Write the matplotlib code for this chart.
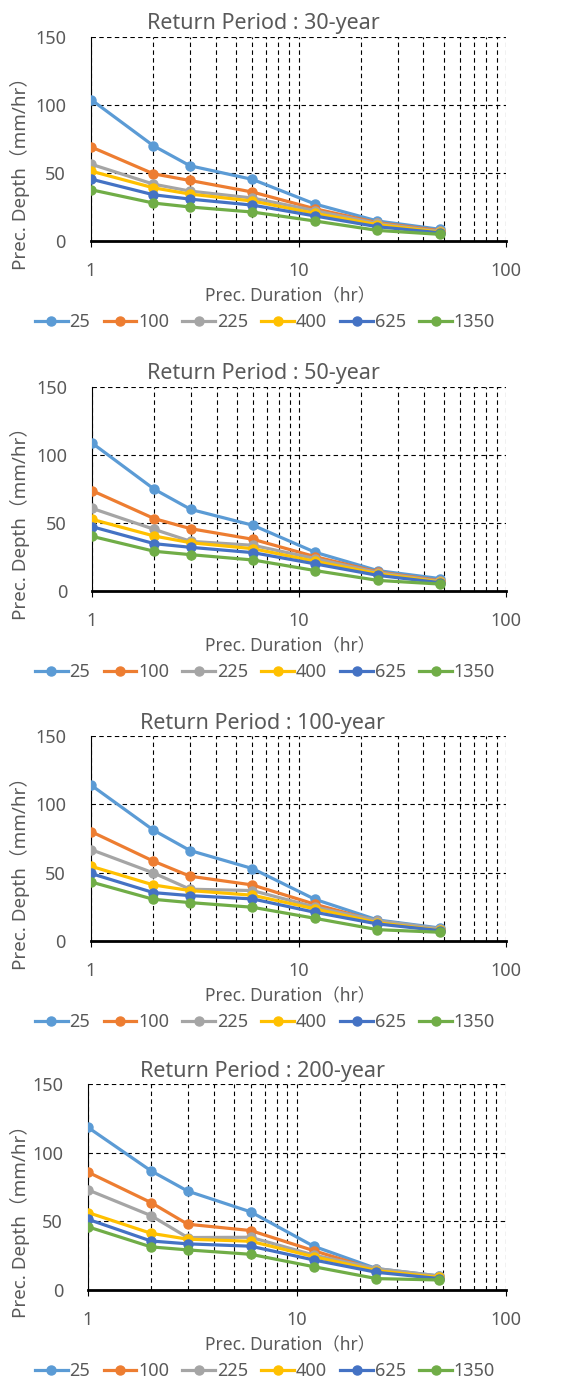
import numpy as np
import matplotlib
matplotlib.use('Agg')
import matplotlib.pyplot as plt

plt.rcParams['font.family'] = ['Noto Sans', 'Noto Sans CJK JP', 'DejaVu Sans']

durations = [1, 2, 3, 6, 12, 24, 48]
areas = ['25', '100', '225', '400', '625', '1350']
colors = ['#5B9BD5', '#ED7D31', '#A5A5A5', '#FFC000', '#4472C4', '#70AD47']
periods = ['30', '50', '100', '200']

rp30 = [
    [104, 70, 55.3, 45.3, 27.2, 14.7, 8.6],
    [69.2, 49.4, 44.5, 36, 23.7, 13.5, 7.6],
    [56.5, 41.8, 36.7, 31.6, 22.3, 12.9, 7],
    [51.4, 39.1, 34.5, 29.4, 20.3, 12, 6.5],
    [45.5, 34, 30.8, 26.4, 18.4, 10.5, 6],
    [37.7, 27.9, 25, 21.3, 14.7, 7.8, 4.9],
]
rp50 = [
    [108.8, 74.8, 60, 48.3, 28.4, 15, 9.1],
    [73.8, 53.2, 45.8, 38, 25.2, 14, 7.6],
    [60.8, 45.3, 36.5, 33.6, 23.8, 13.5, 7.1],
    [52.7, 40.4, 35.5, 31.1, 21.8, 12.7, 6.6],
    [47.3, 34.8, 32.1, 28.2, 19.9, 11.5, 6.1],
    [40.2, 29.2, 26.7, 22.8, 15, 7.8, 5.1],
]
rp100 = [
    [114.1, 81.1, 66.2, 53, 30.5, 15.4, 9.5],
    [80.1, 58.4, 47.4, 41, 26.9, 14.4, 8.3],
    [66.9, 49.8, 37.9, 36.9, 24.9, 14.9, 9],
    [54.7, 41, 36.9, 33.5, 23.5, 13.4, 7.8],
    [49.4, 35.4, 33.2, 30.8, 21, 12.5, 7.6],
    [43.2, 30.5, 28.1, 24.7, 16.6, 8.3, 6.4],
]
rp200 = [
    [118.4, 86.8, 72, 56.9, 31.9, 15.6, 10.2],
    [85.8, 63.7, 47.9, 43.3, 28.7, 14.6, 7.8],
    [72.9, 54.2, 38.2, 38.4, 25.5, 15.6, 10.2],
    [56.4, 41.3, 37, 35.5, 24.3, 14.1, 9.2],
    [51.5, 35.7, 33.6, 31.9, 21.9, 12.9, 8.3],
    [46, 31.4, 29.2, 26, 17, 8.3, 7.3],
]
all_data = [rp30, rp50, rp100, rp200]

W, H = 568, 1383
fig = plt.figure(figsize=(W / 100, H / 100), dpi=100)

# axes boxes in pixels: left, right, top, bottom
boxes = [(91, 506, 37, 241), (92, 506, 387, 591), (91, 506, 736, 941), (88, 506, 1084, 1290)]
tcol = '#595959'

for k in range(4):
    l, r, t, b = boxes[k]
    ax = fig.add_axes([l / W, 1 - b / H, (r - l) / W, (b - t) / H])
    for i in range(6):
        ax.plot(durations, all_data[k][i], color=colors[i], lw=2.3, marker='o', ms=6.5,
                label=areas[i], zorder=3)
    ax.set_xscale('log')
    ax.set_xlim(1, 100)
    ax.set_ylim(0, 150)
    ax.set_yticks([0, 50, 100, 150])
    ax.set_xticks([1, 10, 100])
    ax.set_xticklabels(['1', '10', '100'])
    ax.set_xticks([2, 3, 4, 5, 6, 7, 8, 9, 20, 30, 40, 50, 60, 70, 80, 90], minor=True)
    ax.xaxis.set_minor_formatter(matplotlib.ticker.NullFormatter())
    ax.grid(True, which='both', axis='x', color='black', ls=(0, (4, 3)), lw=0.8)
    ax.grid(True, which='major', axis='y', color='black', ls=(0, (4, 3)), lw=0.8)
    ax.set_axisbelow(True)
    ax.spines['top'].set_visible(False)
    ax.spines['right'].set_visible(False)
    ax.spines['left'].set_linewidth(0.8)
    ax.spines['bottom'].set_linewidth(2)
    ax.tick_params(axis='x', which='major', length=4, width=0.8, pad=11, labelsize=13, labelcolor=tcol)
    ax.tick_params(axis='x', which='minor', length=0)
    ax.tick_params(axis='y', length=0, pad=18, labelsize=13, labelcolor=tcol)

    cy = (t + b) / 2
    fig.text(20 / W, 1 - (cy + 30) / H, 'Prec. Depth（mm/hr）', rotation=90, ha='center', va='center',
             fontsize=13.5, color=tcol)
    fig.text(290 / W, 1 - (b + 55) / H, 'Prec. Duration（hr）', ha='center', va='center',
             fontsize=12.5, color=tcol)
    fig.text(263 / W, 1 - (t - 13) / H, 'Return Period : ' + periods[k] + '-year', ha='center', va='center',
             fontsize=15.5, color=tcol)
    fig.legend(*ax.get_legend_handles_labels(), loc='center', bbox_to_anchor=(265 / W, 1 - (b + 81) / H),
               ncol=6, frameon=False, fontsize=13, handlelength=1.8, handletextpad=0.1,
               columnspacing=0.75, labelcolor=tcol, borderaxespad=0)

fig.savefig('out.png', dpi=100)
